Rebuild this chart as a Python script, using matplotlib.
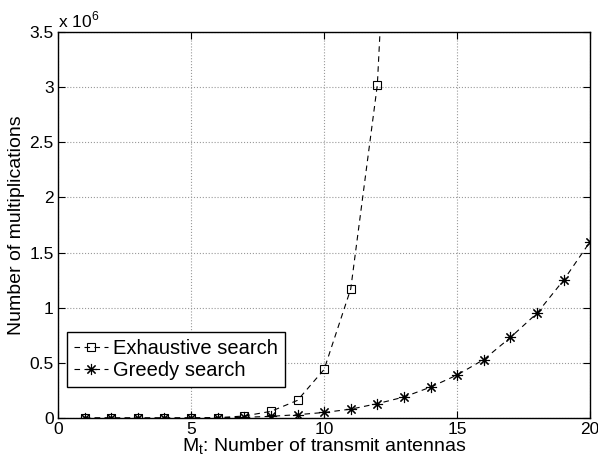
import matplotlib
matplotlib.use('Agg')
import matplotlib.pyplot as plt
import numpy as np

plt.rcParams['font.family'] = ['Liberation Sans', 'DejaVu Sans']
plt.rcParams['mathtext.fontset'] = 'custom'
plt.rcParams['mathtext.rm'] = 'Liberation Sans'

# number of transmit antennas
antennas = np.arange(1, 21)

# multiplication counts (in units of 1e6)
exhaustive = [0.0, 0.0, 0.0, 0.0, 0.001, 0.003, 0.018, 0.06, 0.16, 0.44,
              1.17, 3.02, 7.8]
greedy = [0.0, 0.0, 0.0, 0.0, 0.0, 0.002, 0.006, 0.015, 0.03, 0.05,
          0.08, 0.13, 0.19, 0.28, 0.39, 0.53, 0.73, 0.95, 1.25, 1.60]

fig = plt.figure(figsize=(5.98, 4.61), dpi=100)
ax = fig.add_axes([0.097, 0.0933, 0.89, 0.8373])

ax.plot(antennas[:len(exhaustive)], np.array(exhaustive) * 1e6, '--',
        color='k', linewidth=0.8, marker='s', markersize=6,
        markerfacecolor='none', markeredgewidth=0.8, dashes=(5, 4),
        label='Exhaustive search')
ax.plot(antennas, np.array(greedy) * 1e6, '--', color='k', linewidth=0.8,
        marker=(8, 2, 0), markersize=8, markeredgewidth=0.8, dashes=(5, 4),
        label='Greedy search')

ax.set_xlim(0, 20)
ax.set_ylim(0, 3.5e6)
ax.set_xticks([0, 5, 10, 15, 20])
ax.set_yticks(np.arange(0, 3.51e6, 0.5e6))
ax.set_yticklabels(['0', '0.5', '1', '1.5', '2', '2.5', '3', '3.5'])
ax.text(0.0, 1.005, r'x 10$^{6}$', transform=ax.transAxes, fontsize=12.5,
        ha='left', va='bottom')

ax.grid(True, linestyle=':', color='0.6', linewidth=0.8)
ax.tick_params(direction='in', labelsize=12.5, length=5, top=True, right=True,
               pad=3)
for s in ax.spines.values():
    s.set_linewidth(1.0)

ax.set_xlabel(r'M$_\mathrm{t}$: Number of transmit antennas', fontsize=14,
              labelpad=0)
ax.set_ylabel('Number of multiplications', fontsize=14, labelpad=3)

leg = ax.legend(loc='lower left', bbox_to_anchor=(0.017, 0.08),
                borderaxespad=0, fontsize=14.5, fancybox=False,
                edgecolor='k', framealpha=1, handlelength=1.7,
                borderpad=0.35, labelspacing=0.15, handletextpad=0.25)
leg.get_frame().set_linewidth(1.0)

fig.savefig('out.png', dpi=100)
